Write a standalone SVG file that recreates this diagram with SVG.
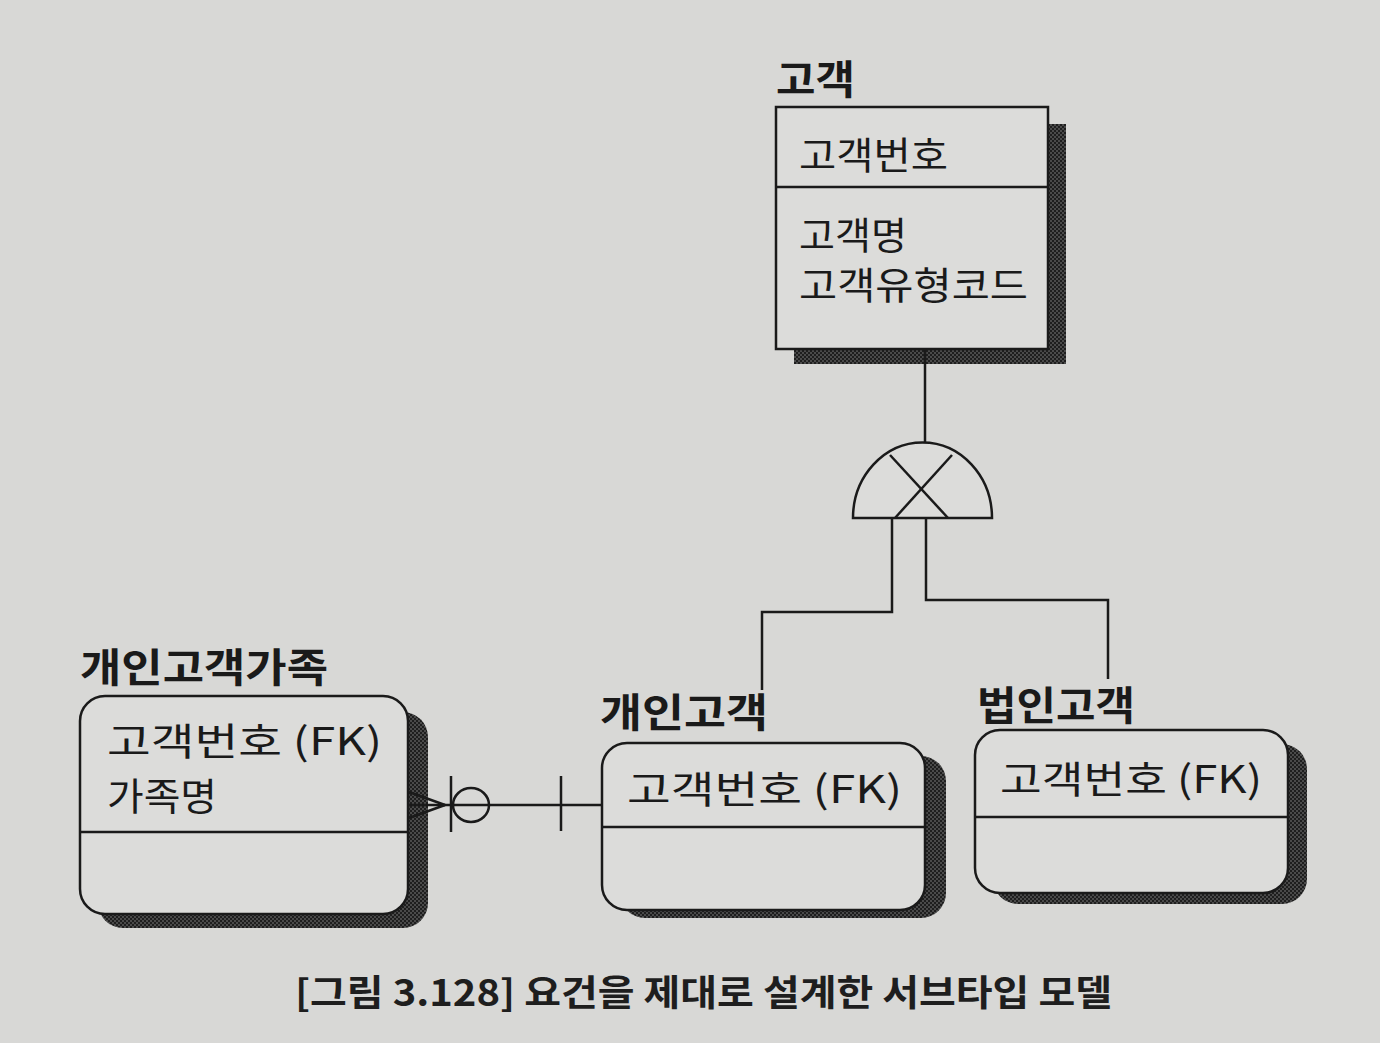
<svg xmlns="http://www.w3.org/2000/svg" width="1380" height="1043" viewBox="0 0 1380 1043">
<defs>
<pattern id="dither" width="4" height="4" patternUnits="userSpaceOnUse">
<rect width="4" height="4" fill="#4a4a4a"/>
<rect width="2" height="2" fill="#1e1e1e"/>
<rect x="2" y="2" width="2" height="2" fill="#1e1e1e"/>
</pattern>
<style>
.title{font-family:"Noto Sans CJK KR","Noto Sans",sans-serif;font-weight:700;font-size:40px;fill:#1a1a1a}
.attr{font-family:"Noto Sans CJK KR","Noto Sans",sans-serif;font-weight:400;font-size:38px;fill:#1a1a1a}
.box{fill:#dcdcda;stroke:#1a1a1a;stroke-width:2.5}
.shadow{fill:url(#dither)}
.div{stroke:#1a1a1a;stroke-width:2.5}
.ln{fill:none;stroke:#1a1a1a;stroke-width:2.5}
.cap{font-family:"Noto Sans CJK KR","Noto Sans",sans-serif;font-weight:700;font-size:36px;fill:#1e1e1e}
</style>
</defs>
<rect width="1380" height="1043" fill="#d8d8d6"/>

<g id="customer">
<text class="title" x="776" y="94" textLength="79" lengthAdjust="spacingAndGlyphs">고객</text>
<rect class="shadow" x="794" y="124" width="272" height="240"/>
<rect class="box" x="776" y="107" width="272" height="242"/>
<line class="div" x1="776" y1="187" x2="1048" y2="187"/>
<text class="attr" x="799" y="169" textLength="149" lengthAdjust="spacingAndGlyphs">고객번호</text>
<text class="attr" x="799" y="249" textLength="108" lengthAdjust="spacingAndGlyphs">고객명</text>
<text class="attr" x="799" y="299" textLength="229" lengthAdjust="spacingAndGlyphs">고객유형코드</text>
</g>

<g id="family">
<text class="title" x="80" y="682" textLength="248" lengthAdjust="spacingAndGlyphs">개인고객가족</text>
<rect class="shadow" x="98" y="712" width="330" height="216" rx="25"/>
<rect class="box" x="80" y="696" width="328" height="218" rx="25"/>
<line class="div" x1="80" y1="832" x2="408" y2="832"/>
<text class="attr" x="107" y="755" textLength="275" lengthAdjust="spacingAndGlyphs">고객번호 (FK)</text>
<text class="attr" x="107" y="810" textLength="110" lengthAdjust="spacingAndGlyphs">가족명</text>
</g>

<g id="personal">
<text class="title" x="600" y="727" textLength="168" lengthAdjust="spacingAndGlyphs">개인고객</text>
<rect class="shadow" x="620" y="756" width="326" height="162" rx="25"/>
<rect class="box" x="602" y="743" width="323" height="167" rx="25"/>
<line class="div" x1="602" y1="827" x2="925" y2="827"/>
<text class="attr" x="627" y="803" textLength="275" lengthAdjust="spacingAndGlyphs">고객번호 (FK)</text>
</g>

<g id="corporate">
<text class="title" x="977" y="720" textLength="158" lengthAdjust="spacingAndGlyphs">법인고객</text>
<rect class="shadow" x="993" y="744" width="314" height="160" rx="25"/>
<rect class="box" x="975" y="730" width="313" height="163" rx="25"/>
<line class="div" x1="975" y1="817" x2="1288" y2="817"/>
<text class="attr" x="1000" y="793" textLength="262" lengthAdjust="spacingAndGlyphs">고객번호 (FK)</text>
</g>

<g id="subtype">
<path class="box" d="M853,518 A69,75 0 0 1 992,518 Z"/>
<line class="ln" x1="890" y1="455" x2="948" y2="518"/>
<line class="ln" x1="952" y1="455" x2="895" y2="518"/>
</g>

<g id="connectors">
<line class="ln" x1="925" y1="349" x2="925" y2="443"/>
<polyline class="ln" points="892,518 892,612 762,612 762,690"/>
<polyline class="ln" points="926,518 926,600 1108,600 1108,679"/>
<line class="ln" x1="408" y1="805" x2="602" y2="805"/>
<line class="ln" x1="445" y1="805" x2="409" y2="792"/>
<line class="ln" x1="445" y1="805" x2="409" y2="818"/>
<line class="ln" x1="451" y1="776" x2="451" y2="832"/>
<ellipse class="ln" cx="471" cy="805" rx="18" ry="17" fill="#d8d8d6"/>
<line class="ln" x1="561" y1="776" x2="561" y2="831"/>
</g>

<text class="cap" x="295" y="1006" textLength="817" lengthAdjust="spacingAndGlyphs">[그림 3.128] 요건을 제대로 설계한 서브타입 모델</text>
</svg>
